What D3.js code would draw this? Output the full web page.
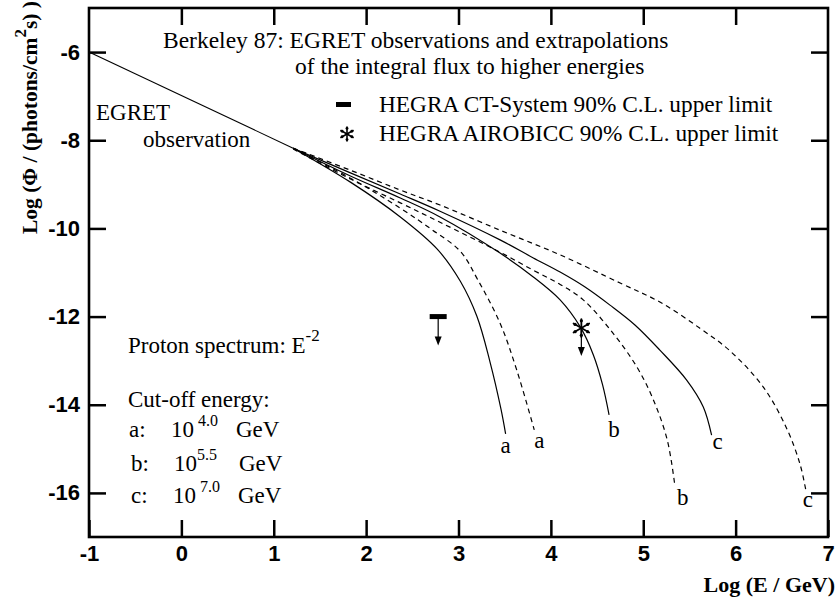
<!DOCTYPE html>
<html><head><meta charset="utf-8">
<script src="https://cdn.jsdelivr.net/npm/d3@7"></script>
<style>body{margin:0;background:#fff}</style>
</head><body>
<svg id="c" width="835" height="599"></svg>
<script>
// ---- data (log10 E [GeV], log10 flux) ----
const xTicks = [-1, 0, 1, 2, 3, 4, 5, 6, 7];
const yTicks = [-6, -8, -10, -12, -14, -16];
const egretObs = [[-1, -6.0], [1.21, -8.18]];
const solidA = [[1.21,-8.18],[1.83,-8.95],[2.37,-9.74],[2.77,-10.47],[3.02,-11.20],[3.20,-12.00],[3.34,-13.02],[3.46,-14.10],[3.51,-14.66]];
const dashedA = [[1.21,-8.18],[1.83,-8.86],[2.37,-9.54],[2.72,-10.04],[3.02,-10.52],[3.21,-11.17],[3.45,-12.15],[3.63,-13.21],[3.82,-14.57]];
const solidB = [[1.21,-8.18],[1.83,-8.81],[2.37,-9.31],[2.80,-9.74],[3.45,-10.56],[3.81,-11.10],[4.10,-11.62],[4.32,-12.24],[4.46,-12.87],[4.56,-13.55],[4.63,-14.23]];
const dashedB = [[1.21,-8.20],[1.83,-8.88],[2.37,-9.42],[2.80,-9.86],[3.45,-10.54],[3.81,-10.95],[4.10,-11.27],[4.35,-11.62],[4.67,-12.37],[4.93,-13.14],[5.11,-13.89],[5.26,-14.80],[5.34,-15.80]];
const solidC = [[1.21,-8.18],[1.83,-8.74],[2.37,-9.22],[2.80,-9.61],[3.45,-10.26],[3.81,-10.67],[4.10,-10.99],[4.37,-11.33],[4.64,-11.74],[4.91,-12.19],[5.18,-12.76],[5.47,-13.44],[5.65,-14.05],[5.74,-14.69]];
const dashedC = [[1.21,-8.18],[1.83,-8.68],[2.37,-9.13],[2.80,-9.47],[3.45,-10.04],[4.10,-10.60],[4.75,-11.24],[5.18,-11.67],[5.61,-12.26],[5.94,-12.78],[6.30,-13.60],[6.56,-14.57],[6.70,-15.37],[6.76,-15.94]];
const curveNames = ["a", "a", "b", "b", "c", "c"];
const ctSystemLimit = [2.78, -12.0];
const airobiccLimit = [4.33, -12.26];

// ---- layout ----
const svg = d3.select("#c");
const x = d3.scaleLinear([-1, 7], [89, 828]);
const y = d3.scaleLinear([-17, -5], [537, 8]);
const serif = "'Liberation Serif','Times New Roman',serif";
const sans = "'Liberation Sans',Arial,sans-serif";

function styleAxis(g) {
  g.select(".domain").remove();
  g.selectAll(".tick line").attr("stroke", "#000").attr("stroke-width", 2.5);
  g.selectAll(".tick text").attr("font-family", sans).attr("font-weight", "bold").attr("font-size", 22).attr("fill", "#000");
}
svg.append("g").attr("transform", "translate(0,537)")
  .call(d3.axisBottom(x).tickValues(xTicks).tickSize(-17).tickPadding(8).tickFormat(d => String(d)))
  .call(styleAxis);
svg.append("g").attr("transform", "translate(89,0)")
  .call(d3.axisLeft(y).tickValues(yTicks).tickSize(-17).tickPadding(9).tickFormat(d => String(d)))
  .call(styleAxis);
svg.append("g").attr("transform", "translate(0,8)")
  .call(d3.axisTop(x).tickValues(xTicks.slice(1, -1)).tickSize(-17).tickFormat(""))
  .call(styleAxis);
svg.append("g").attr("transform", "translate(828,0)")
  .call(d3.axisRight(y).tickValues(yTicks).tickSize(-17).tickFormat(""))
  .call(styleAxis);

svg.append("rect").attr("x", x(-1)).attr("y", y(-5)).attr("width", x(7) - x(-1)).attr("height", y(-17) - y(-5))
  .attr("fill", "none").attr("stroke", "#000").attr("stroke-width", 2.6);

const line = d3.line().x(d => x(d[0])).y(d => y(d[1])).curve(d3.curveCatmullRom.alpha(0.5));
svg.append("path").attr("d", line(egretObs)).attr("fill", "none").attr("stroke", "#000").attr("stroke-width", 1.1);
const series = [
  {pts: solidA, dash: null, off: [0, 19]},
  {pts: dashedA, dash: "5,4", off: [5, 18]},
  {pts: solidB, dash: null, off: [5, 22]},
  {pts: dashedB, dash: "5,4", off: [8, 21]},
  {pts: solidC, dash: null, off: [6, 14]},
  {pts: dashedC, dash: "5,4", off: [2, 17]}
];
series.forEach((s, i) => {
  svg.append("path").attr("d", line(s.pts)).attr("fill", "none").attr("stroke", "#000")
    .attr("stroke-width", 1.2).attr("stroke-dasharray", s.dash);
  const e = s.pts[s.pts.length - 1];
  svg.append("text").attr("x", x(e[0]) + s.off[0]).attr("y", y(e[1]) + s.off[1])
    .attr("text-anchor", "middle").attr("font-family", serif).attr("font-size", 23).text(curveNames[i]);
});

function asterisk(cx, cy, r, w) {
  const g = svg.append("g");
  [90, 30, 150].forEach(a => {
    const t = a * Math.PI / 180;
    g.append("line").attr("x1", cx - r * Math.cos(t)).attr("y1", cy - r * Math.sin(t))
      .attr("x2", cx + r * Math.cos(t)).attr("y2", cy + r * Math.sin(t))
      .attr("stroke", "#000").attr("stroke-width", w).attr("stroke-linecap", "round");
  });
  [90, 30, 150, 270, 210, 330].forEach(a => {
    const t = a * Math.PI / 180;
    g.append("circle").attr("cx", cx + r * 0.8 * Math.cos(t)).attr("cy", cy + r * 0.8 * Math.sin(t)).attr("r", w * 0.9).attr("fill", "#000");
  });
}
function arrowDown(cx, y0, y1) {
  svg.append("line").attr("x1", cx).attr("x2", cx).attr("y1", y0).attr("y2", y1 - 6).attr("stroke", "#000").attr("stroke-width", 1.2);
  svg.append("path").attr("d", `M${cx - 3.5},${y1 - 9}L${cx + 3.5},${y1 - 9}L${cx},${y1}Z`).attr("fill", "#000");
}
{
  const cx = x(ctSystemLimit[0]), cy = y(ctSystemLimit[1]);
  svg.append("rect").attr("x", cx - 8.5).attr("y", cy - 2.5).attr("width", 17).attr("height", 5).attr("fill", "#000");
  arrowDown(cx, cy, cy + 29);
}
{
  const cx = x(airobiccLimit[0]), cy = y(airobiccLimit[1]);
  asterisk(cx, cy, 9, 1.8);
  arrowDown(cx, cy, cy + 28);
}

function txt(xp, yp, s, size, opts = {}) {
  return svg.append("text").attr("x", xp).attr("y", yp).attr("font-family", serif)
    .attr("font-size", size).attr("font-weight", opts.bold ? "bold" : null).text(s);
}
txt(163, 48, "Berkeley 87: EGRET observations and extrapolations", 23.5);
txt(295, 74, "of the integral flux to higher energies", 23.5);
svg.append("rect").attr("x", 336).attr("y", 102).attr("width", 15).attr("height", 5).attr("fill", "#000");
txt(379, 112, "HEGRA CT-System 90% C.L. upper limit", 23.3);
asterisk(347, 134, 7, 1.6);
txt(379, 141, "HEGRA AIROBICC 90% C.L. upper limit", 23.3);
txt(96, 120, "EGRET", 23);
txt(143, 147, "observation", 23);

const ps = txt(128, 353, "Proton spectrum: E", 23);
ps.append("tspan").attr("dy", -12).attr("font-size", 17).text("-2");
txt(128, 407, "Cut-off energy:", 23);
const cut = [["a:", 129, 171, "4.0", 236, 437], ["b:", 131, 174, "5.5", 239, 471], ["c:", 131, 173, "7.0", 238, 503]];
cut.forEach(c => {
  txt(c[1], c[5], c[0], 23);
  const t = txt(c[2], c[5], "10", 23);
  t.append("tspan").attr("dx", c[3] === "5.5" ? 0 : 4).attr("dy", -11).attr("font-size", 16).text(c[3]);
  txt(c[4], c[5], "GeV", 23);
});

svg.append("text").attr("x", 835).attr("y", 592).attr("text-anchor", "end").attr("font-family", serif)
  .attr("font-weight", "bold").attr("font-size", 22).text("Log (E / GeV)");
const yt = svg.append("text").attr("transform", "translate(37,234) rotate(-90)").attr("font-family", serif)
  .attr("font-weight", "bold").attr("font-size", 21.5);
yt.append("tspan").text("Log (Φ / (photons/cm");
yt.append("tspan").attr("dy", -11).attr("font-size", 17).text("2");
yt.append("tspan").attr("dy", 11).text("s) )");
</script>
</body></html>
